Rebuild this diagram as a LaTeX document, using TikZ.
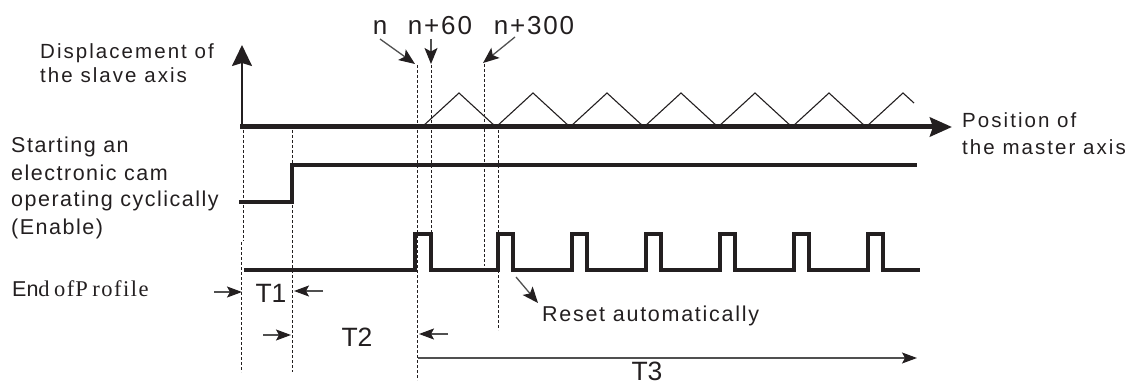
\documentclass[tikz,border=0pt]{standalone}
\usepackage{fontspec}
\setmainfont{Liberation Sans}
\newfontfamily\lsA[LetterSpace=10]{Liberation Sans}
\newfontfamily\lsB[LetterSpace=7]{Liberation Sans}
\newfontfamily\lsR[LetterSpace=8]{Liberation Sans}
\newfontfamily\lsN[LetterSpace=7]{Liberation Sans}
\newfontfamily\serx{Liberation Serif}
\usetikzlibrary{arrows.meta}
\definecolor{ink}{HTML}{231F20}
\definecolor{shaft}{HTML}{505050}
\begin{document}
\begin{tikzpicture}[x=1pt,y=-1pt,
  lbl/.style={inner sep=0pt, anchor=base west, text=ink},
  lblA/.style={lbl, font=\lsA\fontsize{20.5}{24}\selectfont},
  lblB/.style={lbl, font=\lsB\fontsize{21.5}{25}\selectfont},
  lblR/.style={lbl, font=\lsR\fontsize{21.5}{25}\selectfont},
  numlbl/.style={inner sep=0pt, anchor=base, text=ink, font=\lsN\fontsize{26}{29}\selectfont},
  tlbl/.style={inner sep=0pt, anchor=base, text=ink, font=\fontsize{26.5}{30}\selectfont},
  guide/.style={draw=ink, line width=0.9pt, dash pattern=on 3pt off 2pt},
  signal/.style={draw=ink, line width=3.6pt, line join=miter},
  ptr/.style={draw=shaft, line width=1.3pt, -{Stealth[length=16pt,width=13pt,inset=3.5pt,fill=ink,color=ink]}},
  tarrow/.style={draw=shaft, line width=1.3pt, -{Stealth[length=15pt,width=11pt,inset=3pt,fill=ink,color=ink]}},
  cam/.style={draw=ink, line width=1.1pt, line join=miter}
]
\useasboundingbox (0,0) rectangle (1133,385);

% guide lines (dashed)
\draw[guide] (243,130) -- (243,241);
\draw[guide] (241,242) -- (241,372);
\draw[guide] (292,130) -- (292,372);
\draw[guide] (417,65) -- (417,380);
\draw[guide] (431,65) -- (431,268);
\draw[guide] (484,64) -- (484,266);
\draw[guide] (498,130) -- (498,330);

% cam profile (triangles)
\draw[cam] (422,127) -- (459,93) -- (496,127) -- (533,93) -- (570,127) -- (607,93)
  -- (644,127) -- (681,93) -- (718,127) -- (755,93) -- (792,127) -- (829,93)
  -- (866,127) -- (903,93) -- (914,103);

% axes
\coordinate (origin) at (242,127);
\coordinate (ytip) at (242,45);
\coordinate (xstart) at (240,127);
\coordinate (xtip) at (952,127);
\draw[ink, line width=2pt, -{Stealth[length=21pt,width=20pt,inset=3pt]}] (origin) -- (ytip);
\draw[ink, line width=5pt, -{Stealth[length=22pt,width=19pt,inset=3pt]}] (xstart) -- (xtip);

% Enable signal
\draw[signal] (239,202) -- (292,202) -- (292,165) -- (917,165);

% EndofProfile signal
\draw[signal] (244,270) -- (415,270) -- (415,234) -- (431,234) -- (431,270)
  -- (498,270) -- (498,234) -- (513,234) -- (513,270)
  -- (572,270) -- (572,234) -- (587,234) -- (587,270)
  -- (646,270) -- (646,234) -- (661,234) -- (661,270)
  -- (720,270) -- (720,234) -- (735,234) -- (735,270)
  -- (794,270) -- (794,234) -- (809,234) -- (809,270)
  -- (868,270) -- (868,234) -- (883,234) -- (883,270)
  -- (920,270);

% labels left
\node[lblA] (disp1) at (40,59) {Displacement of};
\node[lblA] (disp2) at (40,83) {the slave axis};
\node[lblB] (st1) at (11,153) {Starting an};
\node[lblB] (st2) at (11,180) {electronic cam};
\node[lblB] (st3) at (11,207) {operating cyclically};
\node[lblB] (st4) at (11,234) {(Enable)};
\node[lbl] (eop) at (12,296) {{\fontsize{21.5}{24}\selectfont En}{\serx\fontsize{22.5}{24}\selectfont d\kern4.5pt o\kern1.5pt f\kern1pt P\kern4.5pt r\kern1.5pt o\kern1.5pt f\kern1.5pt i\kern1.5pt l\kern1.5pt e}};

% labels right
\node[lblA] (pos1) at (962,128) {Position of};
\node[lblA] (pos2) at (962,155) {the master axis};

% top labels
\node[numlbl] (ln) at (380,35) {n};
\node[numlbl] (ln60) at (440,35) {n+60};
\node[numlbl] (ln300) at (534,35) {n+300};
\coordinate (nA) at (380,39);  \coordinate (nB) at (415,64);
\coordinate (mA) at (431,39);  \coordinate (mB) at (431,64);
\coordinate (pA) at (515,37);  \coordinate (pB) at (483,63);
\draw[ptr] (nA) -- (nB);
\draw[ptr] (mA) -- (mB);
\draw[ptr] (pA) -- (pB);

% reset label
\node[lblR] (reset) at (542,321) {Reset automatically};
\coordinate (rA) at (516,277); \coordinate (rB) at (538,303);
\draw[ptr] (rA) -- (rB);

% T1, T2, T3
\node[tlbl] (t1) at (271,302) {T1};
\node[tlbl] (t2) at (357,346) {T2};
\node[tlbl] (t3) at (647,380) {T3};
\coordinate (t1a) at (214,292); \coordinate (t1b) at (242,292);
\coordinate (t1c) at (323,291); \coordinate (t1d) at (294,291);
\coordinate (t2a) at (263,335); \coordinate (t2b) at (291,335);
\coordinate (t2c) at (448,334); \coordinate (t2d) at (419,334);
\coordinate (t3a) at (418,358); \coordinate (t3b) at (917,358);
\draw[tarrow] (t1a) -- (t1b);
\draw[tarrow] (t1c) -- (t1d);
\draw[tarrow] (t2a) -- (t2b);
\draw[tarrow] (t2c) -- (t2d);
\draw[tarrow] (t3a) -- (t3b);
\end{tikzpicture}
\end{document}
